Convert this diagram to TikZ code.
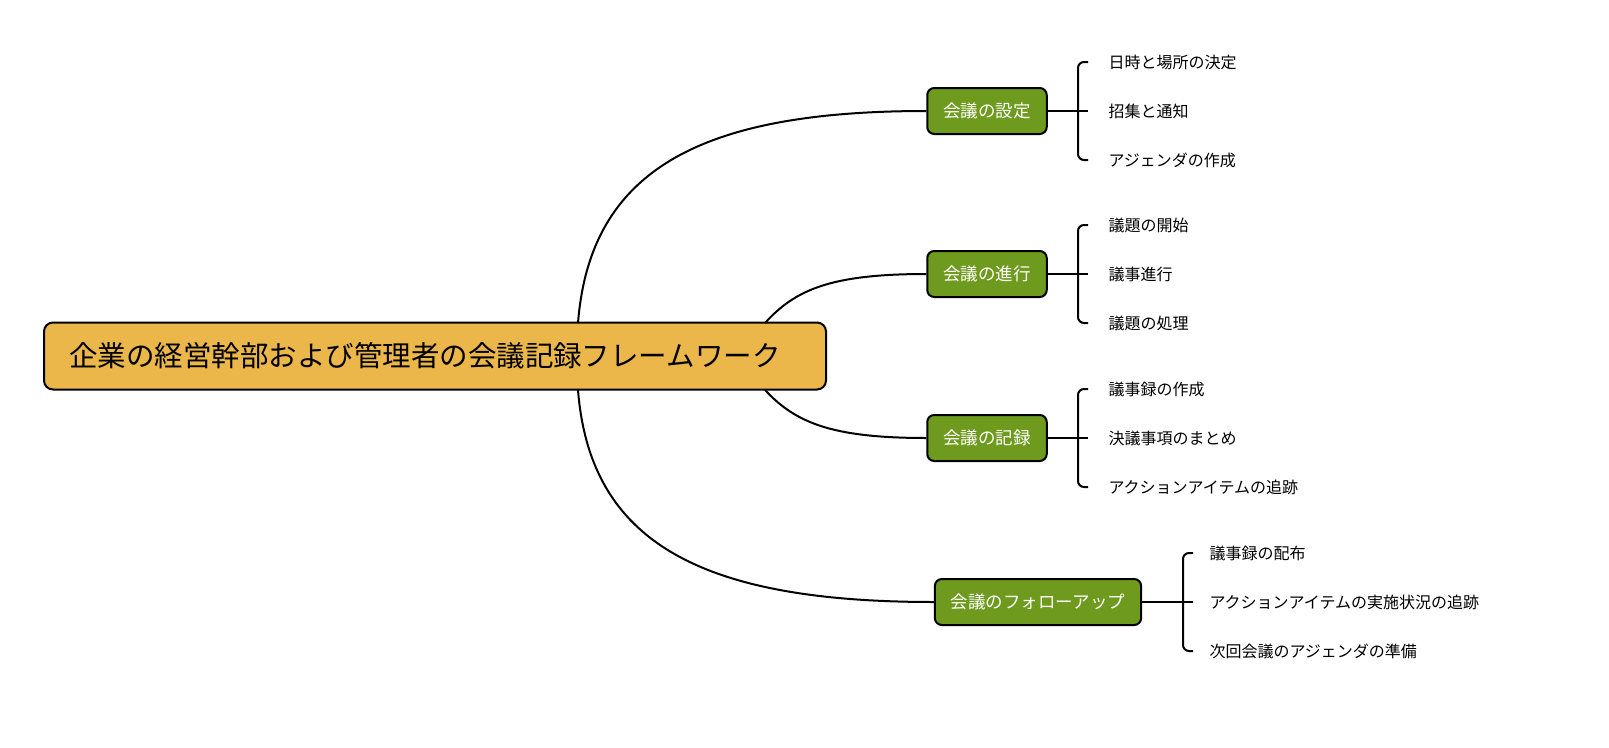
\documentclass[tikz,border=0pt]{standalone}
\usepackage{fontspec}
\setmainfont{Noto Sans CJK JP}
\begin{document}
\begin{tikzpicture}[x=1pt,y=-1pt,
 rootbox/.style={draw=black,line width=2pt,fill={rgb,255:red,235;green,183;blue,74},rounded corners=9pt,minimum width=782pt,minimum height=67pt,text width=732pt,align=left,font=\fontsize{28.5}{32}\selectfont},
 midbox/.style={draw=black,line width=2pt,fill={rgb,255:red,110;green,155;blue,30},text=white,rounded corners=7pt,minimum height=46pt,inner xsep=16pt,font=\fontsize{17.5}{20}\selectfont},
 leaf/.style={anchor=west,font=\fontsize{16}{19}\selectfont},
 con/.style={line width=2pt},
 brk/.style={line width=2pt,rounded corners=6pt}]
\useasboundingbox (0,0) rectangle (1609,747);
\node[rootbox] (root) at (435,356) {企業の経営幹部および管理者の会議記録フレームワーク};
\node[midbox] (b1) at (987,111) {会議の設定};
\node[midbox] (b2) at (987,274) {会議の進行};
\node[midbox] (b3) at (987,438) {会議の記録};
\node[midbox] (b4) at (1038,602) {会議のフォローアップ};
\coordinate (r1) at (578,323); \coordinate (r2) at (765,323);
\coordinate (r3) at (765,390); \coordinate (r4) at (578,390);
\draw[con] (r1) .. controls (590,170) and (700,111) .. (b1.west);
\draw[con] (r2) .. controls (795,290) and (830,274) .. (b2.west);
\draw[con] (r3) .. controls (795,422) and (830,438) .. (b3.west);
\draw[con] (r4) .. controls (590,542) and (700,602) .. (b4.west);
\foreach \b/\y/\bx/\lx/\ta/\tb/\tc in {
 b1/111/1078/1105/日時と場所の決定/招集と通知/アジェンダの作成,
 b2/274/1078/1105/議題の開始/議事進行/議題の処理,
 b3/438/1078/1105/議事録の作成/決議事項のまとめ/アクションアイテムの追跡,
 b4/602/1183/1206/議事録の配布/アクションアイテムの実施状況の追跡/次回会議のアジェンダの準備}{
 \draw[con] (\b.east) -- (\bx,\y) -- (\bx+10,\y);
 \draw[brk] (\bx+10,\y-49) -- (\bx,\y-49) -- (\bx,\y+49) -- (\bx+10,\y+49);
 \node[leaf] (\b a) at (\lx,\y-49) {\ta};
 \node[leaf] (\b b) at (\lx,\y) {\tb};
 \node[leaf] (\b c) at (\lx,\y+49) {\tc};
}
\end{tikzpicture}
\end{document}
